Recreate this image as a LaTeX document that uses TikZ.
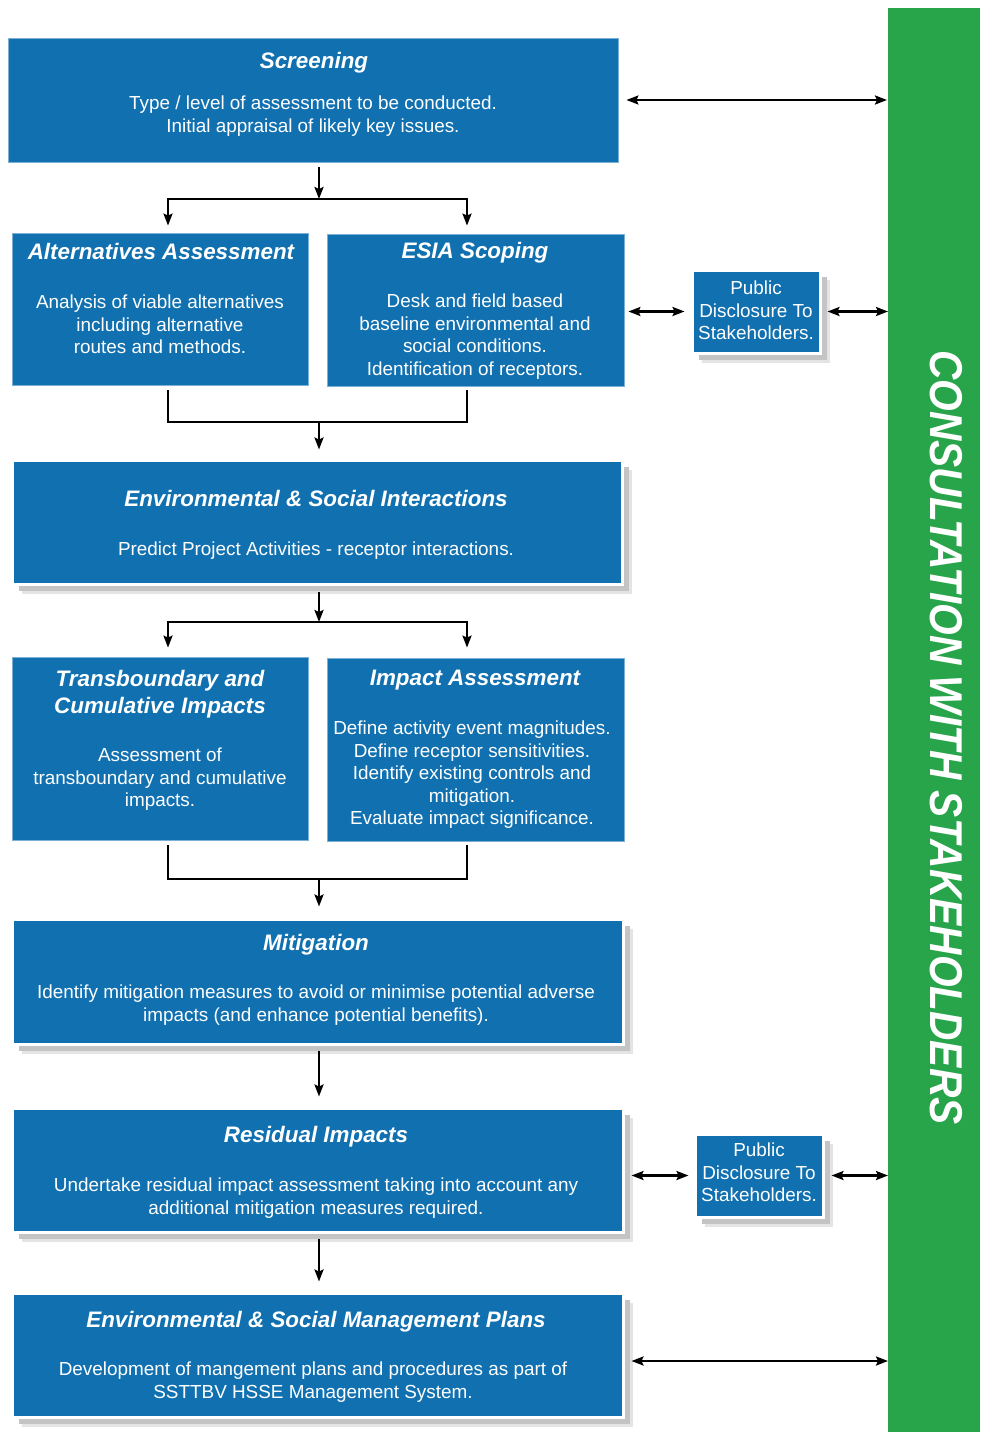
\documentclass[tikz,border=0pt]{standalone}
\usepackage{fontspec}
\setmainfont{Liberation Sans}
\usetikzlibrary{arrows.meta,shadows}
\definecolor{boxblue}{HTML}{1070B0}
\definecolor{barGreen}{HTML}{28A44A}
\definecolor{shadowgray}{HTML}{C4C4C4}
\definecolor{shadowsoft}{HTML}{E4E4E4}
\tikzset{
  box/.style={rectangle, fill=boxblue, draw=boxblue!55!white, line width=0.8pt, inner sep=0pt},
  shadowed/.style={draw=white, line width=3pt,
    drop shadow={shadow xshift=10pt, shadow yshift=-10pt, fill=shadowsoft, opacity=1},
    drop shadow={shadow xshift=7pt, shadow yshift=-7pt, fill=shadowgray, opacity=1}},
  ttl/.style={text=white, font=\fontsize{22.4}{27}\selectfont\bfseries\itshape, align=center, anchor=base, inner sep=0pt},
  bodytext/.style={text=white, font=\fontsize{18.9}{22.5}\selectfont, align=center, anchor=base, inner sep=0pt},
  ln/.style={line width=2.3pt, black},
  arr/.style={ln, -{Stealth[length=12pt,width=9pt,inset=2pt]}},
  darr/.style={ln, {Stealth[length=12pt,width=9pt,inset=2pt]}-{Stealth[length=12pt,width=9pt,inset=2pt]}}
}
\begin{document}
\begin{tikzpicture}[x=1pt,y=-1pt]
\useasboundingbox (0,0) rectangle (980,1432);
% green bar
\node[fill=barGreen, minimum width=92pt, minimum height=1424pt, inner sep=0pt, anchor=north west] (bar) at (888,8) {};
\node[rotate=-90, text=white, font=\fontsize{46}{46}\selectfont\bfseries\itshape, inner sep=0pt] (ctext) at (946,737.5) {\scalebox{0.884}[1]{CONSULTATION WITH STAKEHOLDERS}};

% boxes
\node[box, minimum width=610pt, minimum height=124pt] (scr) at (313,100) {};
\node[box, minimum width=296pt, minimum height=152pt] (alt) at (160,309) {};
\node[box, minimum width=297pt, minimum height=152pt] (esia) at (475.5,310) {};
\node[box, shadowed, minimum width=128pt, minimum height=83pt] (pd1) at (756,311.5) {};
\node[box, shadowed, minimum width=610pt, minimum height=124pt] (esi) at (317,522) {};
\node[box, minimum width=296pt, minimum height=183pt] (tb) at (160,748.5) {};
\node[box, minimum width=297pt, minimum height=183pt] (ia) at (475.5,749.5) {};
\node[box, shadowed, minimum width=611pt, minimum height=125pt] (mit) at (317.5,981.5) {};
\node[box, shadowed, minimum width=611pt, minimum height=124pt] (res) at (317.5,1170) {};
\node[box, shadowed, minimum width=128pt, minimum height=83pt] (pd2) at (759,1175.5) {};
\node[box, shadowed, minimum width=611pt, minimum height=124pt] (esmp) at (317.5,1355) {};

% texts (multi-line nodes are placed by the baseline of their last line)
\node[ttl] (scrT) at (314,68.5) {Screening};
\node[bodytext] (scrB) at (313,132) {Type / level of assessment to be conducted.\\Initial appraisal of likely key issues.};
\node[ttl] (altT) at (161,259.5) {Alternatives Assessment};
\node[bodytext] (altB) at (160,353.5) {Analysis of viable alternatives\\including alternative\\routes and methods.};
\node[ttl] (esiaT) at (475,258.5) {ESIA Scoping};
\node[bodytext] (esiaB) at (475,375) {Desk and field based\\baseline environmental and\\social conditions.\\Identification of receptors.};
\node[bodytext] (pd1T) at (756,339.5) {Public\\Disclosure To\\Stakeholders.};
\node[ttl] (esiT) at (316,506.5) {Environmental \& Social Interactions};
\node[bodytext] (esiB) at (316,555.5) {Predict Project Activities - receptor interactions.};
\node[ttl] (tbT) at (160,713.5) {Transboundary and\\Cumulative Impacts};
\node[bodytext] (tbB) at (160,806.5) {Assessment of\\transboundary and cumulative\\impacts.};
\node[ttl] (iaT) at (475,685.5) {Impact Assessment};
\node[bodytext] (iaB) at (472,824.5) {Define activity event magnitudes.\\Define receptor sensitivities.\\Identify existing controls and\\mitigation.\\Evaluate impact significance.};
\node[ttl] (mitT) at (316,950.5) {Mitigation};
\node[bodytext] (mitB) at (316,1021) {Identify mitigation measures to avoid or minimise potential adverse\\impacts (and enhance potential benefits).};
\node[ttl] (resT) at (316,1142.5) {Residual Impacts};
\node[bodytext] (resB) at (316,1214) {Undertake residual impact assessment taking into account any\\additional mitigation measures required.};
\node[bodytext] (pd2T) at (759,1201.5) {Public\\Disclosure To\\Stakeholders.};
\node[ttl] (esmpT) at (316,1327.5) {Environmental \& Social Management Plans};
\node[bodytext] (esmpB) at (313,1398) {Development of mangement plans and procedures as part of\\SSTTBV HSSE Management System.};

% junction coordinates
\coordinate (j1) at (319,199); \coordinate (j1l) at (168,199); \coordinate (j1r) at (467,199);
\coordinate (j2) at (319,422); \coordinate (j2l) at (168,422); \coordinate (j2r) at (467,422);
\coordinate (j3) at (319,622); \coordinate (j3l) at (168,622); \coordinate (j3r) at (467,622);
\coordinate (j4) at (319,879); \coordinate (j4l) at (168,879); \coordinate (j4r) at (467,879);

% vertical connectors
\draw[arr] ([yshift=-5pt]scr.south -| j1) -- (j1);
\draw[ln, line cap=rect] (j1l) -- (j1r);
\draw[arr] (j1l) -- ([yshift=7pt]alt.north -| j1l);
\draw[arr] (j1r) -- ([yshift=8pt]esia.north -| j1r);

\draw[ln] ([yshift=-5pt]alt.south -| j2l) -- (j2l) -- (j2r) -- ([yshift=-4pt]esia.south -| j2r);
\draw[arr] (j2) -- ([yshift=9pt]esi.north -| j2);

\draw[arr] ([yshift=-6pt]esi.south -| j3) -- (j3);
\draw[ln, line cap=rect] (j3l) -- (j3r);
\draw[arr] (j3l) -- ([yshift=9pt]tb.north -| j3l);
\draw[arr] (j3r) -- ([yshift=10pt]ia.north -| j3r);

\draw[ln] ([yshift=-5pt]tb.south -| j4l) -- (j4l) -- (j4r) -- ([yshift=-4pt]ia.south -| j4r);
\draw[arr] (j4) -- ([yshift=11pt]mit.north -| j4);

\draw[arr] ([yshift=-5pt]mit.south -| j4) -- ([yshift=10pt]res.north -| j4);
\draw[arr] ([yshift=-5pt]res.south -| j4) -- ([yshift=10pt]esmp.north -| j4);

% horizontal connectors to stakeholders
\draw[darr] ([xshift=8pt]scr.east) -- ([xshift=-1pt]bar.west |- scr.east);
\draw[darr] ([xshift=4pt]esia.east |- pd1.west) -- ([xshift=-6pt]pd1.west);
\draw[darr] ([xshift=6pt]pd1.east) -- (bar.west |- pd1.east);
\draw[darr] ([xshift=7pt]res.east |- pd2.west) -- ([xshift=-5pt]pd2.west);
\draw[darr] ([xshift=7pt]pd2.east) -- (bar.west |- pd2.east);
\draw[darr] ([xshift=7pt,yshift=-6pt]esmp.east) -- ([yshift=-6pt]bar.west |- esmp.east);
\end{tikzpicture}
\end{document}
